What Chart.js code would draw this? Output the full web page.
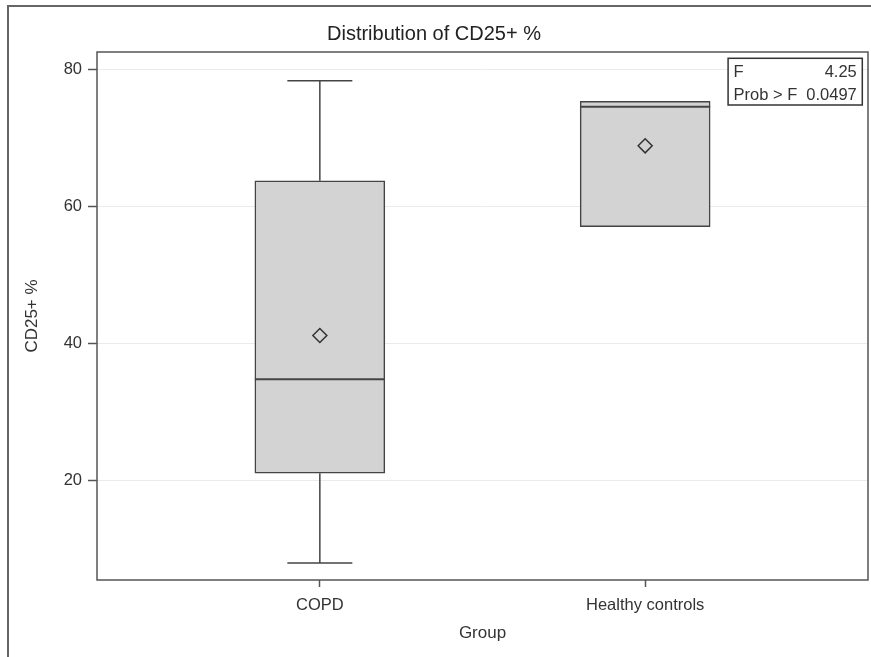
<!DOCTYPE html>
<html>
<head>
<meta charset="utf-8">
<script src="https://cdn.jsdelivr.net/npm/chart.js@4.4.1/dist/chart.umd.min.js"></script>
<style>
  body { margin: 0; background: #fff; }
  #wrap { width: 871px; height: 657px; }
</style>
</head>
<body>
<div id="wrap"><canvas id="boxChart" width="871" height="657"></canvas></div>
<script>
//------ Data ------//
const groups = ['COPD', 'Healthy controls'];
const whiskerLow = [8.0, 57.1];
const quartile1 = [21.1, 57.1];
const medians = [34.8, 74.6];
const quartile3 = [63.8, 75.4];
const whiskerHigh = [78.4, 75.4];
const means = [41.2, 68.9];
const yTicks = [20, 40, 60, 80];
const statLabels = ['F', 'Prob > F'];
const statValues = ['4.25', '0.0497'];

//------ Styles ------//
const fontFamily = "'Liberation Sans', Arial, sans-serif";
const textColor = '#333';
const lineColor = '#444';
const frameColor = '#555';

// x position of each group on the linear axis (1, 2, ...)
const groupX = groups.map((g, i) => i + 1);

//------ Plugin: whiskers, medians, frame, stats inset ------//
const boxParts = {
  id: 'boxParts',
  beforeDraw(chart) {
    // outer figure border (top and left edges only are visible)
    const ctx = chart.ctx;
    ctx.save();
    ctx.strokeStyle = '#666';
    ctx.lineWidth = 2;
    ctx.beginPath();
    ctx.moveTo(8, chart.height);
    ctx.lineTo(8, 6);
    ctx.lineTo(chart.width, 6);
    ctx.stroke();
    ctx.restore();
  },
  afterDatasetDraw(chart, args) {
    if (args.index !== 0) return;
    const ctx = chart.ctx;
    const y = chart.scales.y;
    const bars = chart.getDatasetMeta(0).data;
    ctx.save();
    ctx.strokeStyle = lineColor;
    ctx.lineWidth = 1.5;
    bars.forEach((bar, i) => {
      const cx = bar.x;
      const half = bar.width / 2;
      const cap = bar.width / 4;
      const yLo = y.getPixelForValue(whiskerLow[i]);
      const yQ1 = y.getPixelForValue(quartile1[i]);
      const yQ3 = y.getPixelForValue(quartile3[i]);
      const yHi = y.getPixelForValue(whiskerHigh[i]);
      const yMed = y.getPixelForValue(medians[i]);
      // whiskers and caps (skipped when they coincide with the box)
      ctx.beginPath();
      if (whiskerHigh[i] > quartile3[i]) {
        ctx.moveTo(cx, yQ3); ctx.lineTo(cx, yHi);
        ctx.moveTo(cx - cap, yHi); ctx.lineTo(cx + cap, yHi);
      }
      if (whiskerLow[i] < quartile1[i]) {
        ctx.moveTo(cx, yQ1); ctx.lineTo(cx, yLo);
        ctx.moveTo(cx - cap, yLo); ctx.lineTo(cx + cap, yLo);
      }
      ctx.stroke();
      // median
      ctx.beginPath();
      ctx.lineWidth = 2;
      ctx.moveTo(cx - half, yMed); ctx.lineTo(cx + half, yMed);
      ctx.stroke();
      ctx.lineWidth = 1.5;
    });
    ctx.restore();
  },
  afterDraw(chart) {
    const ctx = chart.ctx;
    const area = chart.chartArea;
    ctx.save();
    // plot frame
    ctx.strokeStyle = frameColor;
    ctx.lineWidth = 1.5;
    ctx.strokeRect(area.left, area.top, area.right - area.left, area.bottom - area.top);

    // stats inset, top right
    ctx.font = '16.5px ' + fontFamily;
    const pad = 5.5, gap = 9, rowH = 22.7;
    const labW = Math.max(...statLabels.map(t => ctx.measureText(t).width));
    const valW = Math.max(...statValues.map(t => ctx.measureText(t).width));
    const w = pad * 2 + labW + gap + valW;
    const h = 46.7;
    const bx = area.right - 5.7 - w;
    const by = area.top + 6.3;
    ctx.fillStyle = '#fff';
    ctx.fillRect(bx, by, w, h);
    ctx.strokeStyle = '#333';
    ctx.lineWidth = 1.5;
    ctx.strokeRect(bx, by, w, h);
    ctx.fillStyle = textColor;
    ctx.textBaseline = 'alphabetic';
    statLabels.forEach((lab, i) => {
      const base = by + 19 + i * rowH;
      ctx.textAlign = 'left';
      ctx.fillText(lab, bx + pad, base);
      ctx.textAlign = 'right';
      ctx.fillText(statValues[i], bx + w - pad, base);
    });
    ctx.restore();
  }
};

//------ Chart ------//
const ctx = document.getElementById('boxChart');

new Chart(ctx, {
  type: 'bar',
  data: {
    datasets: [{
      label: 'Box',
      data: groupX.map((x, i) => ({ x: x, y: [quartile1[i], quartile3[i]] })),
      backgroundColor: '#d3d3d3',
      borderColor: lineColor,
      borderWidth: 1.5,
      borderSkipped: false,
      barThickness: 130,
      order: 2
    }, {
      type: 'line',
      label: 'Mean',
      data: groupX.map((x, i) => ({ x: x, y: means[i] })),
      showLine: false,
      pointStyle: 'rectRot',
      pointRadius: 7,
      pointBorderWidth: 1.5,
      pointBorderColor: '#333',
      pointBackgroundColor: 'rgba(0,0,0,0)',
      order: 1
    }]
  },
  options: {
    responsive: false,
    animation: false,
    layout: { autoPadding: false, padding: { left: 0, right: 3, top: 0, bottom: 0 } },
    scales: {
      x: {
        type: 'linear',
        offset: false,
        min: 0.315,
        max: 2.685,
        afterBuildTicks: (scale) => { scale.ticks = groupX.map(v => ({ value: v })); },
        afterFit: (scale) => {
          scale.height = 77;
          // labels sit far from the edges, no extra side padding needed
          scale.paddingLeft = 0;
          scale.paddingRight = 0;
        },
        grid: { offset: false, drawOnChartArea: false, tickLength: 7, tickColor: frameColor, tickWidth: 1.5 },
        border: { display: false },
        ticks: {
          color: textColor,
          padding: 9,
          font: { family: fontFamily, size: 16.5 },
          callback: (v) => groups[v - 1]
        },
        title: {
          display: true,
          text: 'Group',
          color: textColor,
          font: { family: fontFamily, size: 17 },
          padding: { top: 0, bottom: 13.8 }
        }
      },
      y: {
        min: 5.5,
        max: 82.6,
        afterBuildTicks: (scale) => { scale.ticks = yTicks.map(v => ({ value: v })); },
        afterFit: (scale) => { scale.width = 97; },
        grid: { color: '#ebebeb', lineWidth: 1, tickLength: 9, tickColor: frameColor, tickWidth: 1.5 },
        border: { display: false },
        ticks: {
          color: textColor,
          padding: 6,
          font: { family: fontFamily, size: 16.5 }
        },
        title: {
          display: true,
          text: 'CD25+ %',
          color: textColor,
          font: { family: fontFamily, size: 17 },
          padding: { top: 22.5, bottom: 0 }
        }
      }
    },
    plugins: {
      legend: { display: false },
      tooltip: { enabled: false },
      title: {
        display: true,
        text: 'Distribution of CD25+ %',
        color: '#222',
        font: { family: fontFamily, size: 20, weight: 'normal' },
        padding: { top: 22, bottom: 6 }
      }
    }
  },
  plugins: [boxParts]
});
</script>
</body>
</html>
